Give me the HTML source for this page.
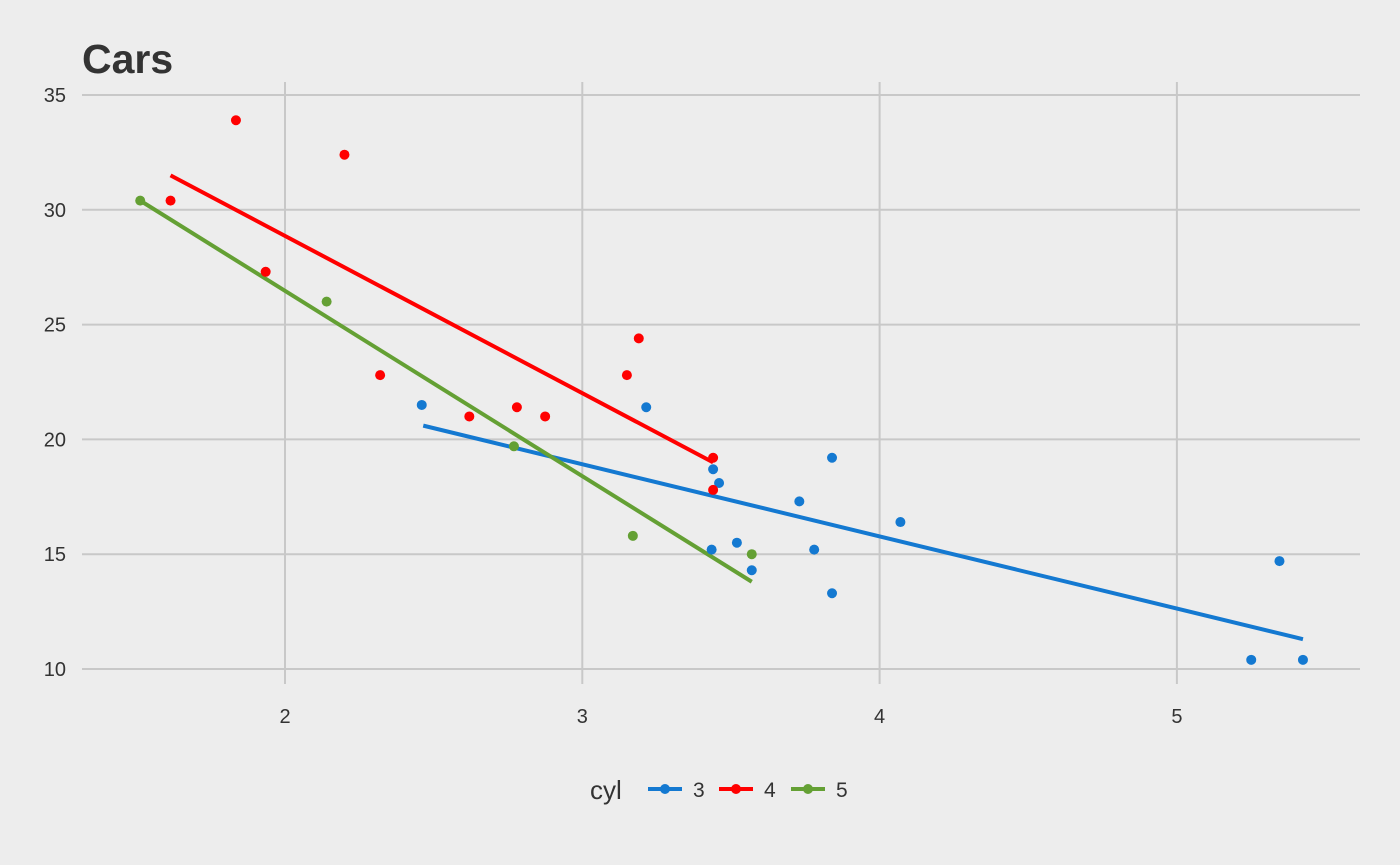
<!DOCTYPE html>
<html><head><meta charset="utf-8">
<style>
html,body{margin:0;padding:0;background:#ededed;}
svg{display:block;font-family:"Liberation Sans",Arial,sans-serif;}
</style></head>
<body>
<svg id="chart" width="1400" height="865" viewBox="0 0 1400 865">
<rect width="1400" height="865" fill="#ededed"/>
<text x="82" y="73" font-size="41" font-weight="bold" fill="#333">Cars</text>
<g id="grid"></g>
<g id="lines"></g>
<g id="points"></g>
<g id="legend">
<text x="590" y="799" font-size="26" fill="#333">cyl</text>
</g>
</svg>
<script>
const xTicks=[2,3,4,5];
const yTicks=[10,15,20,25,30,35];
const groups=["3","4","5"];
const colors=["#1479d1","#ff0000","#64a034"];
const wt3=[2.46,3.215,3.44,3.46,3.435,3.52,3.57,3.73,3.78,3.84,3.84,4.07,5.25,5.345,5.424];
const mpg3=[21.5,21.4,18.7,18.1,15.2,15.5,14.3,17.3,15.2,19.2,13.3,16.4,10.4,14.7,10.4];
const wt4=[1.615,1.835,1.935,2.2,2.32,2.62,2.78,2.875,3.15,3.19,3.44,3.44];
const mpg4=[30.4,33.9,27.3,32.4,22.8,21.0,21.4,21.0,22.8,24.4,19.2,17.8];
const wt5=[1.513,2.14,2.77,3.17,3.57];
const mpg5=[30.4,26.0,19.7,15.8,15.0];
const fitX3=[2.465,5.424], fitY3=[20.6,11.3];
const fitX4=[1.615,3.44], fitY4=[31.5,19.0];
const fitX5=[1.513,3.57], fitY5=[30.4,13.8];

const X=v=>285+(v-2)*297.3;
const Y=v=>669-(v-10)*22.96;
const NS="http://www.w3.org/2000/svg";
function mk(tag,attrs,parent){const e=document.createElementNS(NS,tag);for(const k in attrs)e.setAttribute(k,attrs[k]);parent.appendChild(e);return e;}
const grid=document.getElementById('grid');
yTicks.forEach(t=>{
  const l=mk('line',{x1:82,x2:1360,y1:Y(t),y2:Y(t),stroke:'#c8c8c8','stroke-width':2},grid);
  
  
  const tx=mk('text',{x:66,y:Y(t)+7,'font-size':20,fill:'#333','text-anchor':'end'},grid);
  tx.textContent=t;
  
  
});
xTicks.forEach(t=>{
  const l=mk('line',{x1:X(t),x2:X(t),y1:82,y2:684,stroke:'#c8c8c8','stroke-width':2},grid);
  
  
  const tx=mk('text',{x:X(t),y:723,'font-size':20,fill:'#333','text-anchor':'middle'},grid);
  tx.textContent=t;
  
  
});
const series=[[wt3,mpg3,fitX3,fitY3],[wt4,mpg4,fitX4,fitY4],[wt5,mpg5,fitX5,fitY5]];
const lg=document.getElementById('lines'), pg=document.getElementById('points');
series.forEach((s,i)=>{
  const l=mk('line',{x1:X(s[2][0]),y1:Y(s[3][0]),x2:X(s[2][1]),y2:Y(s[3][1]),stroke:colors[i],'stroke-width':4},lg);
  
  
  s[0].forEach((x,j)=>{
    const c=mk('circle',{cx:X(x),cy:Y(s[1][j]),r:5,fill:colors[i]},pg);
    
    
  });
});
const leg=document.getElementById('legend');
const lx=[648,719,791];
groups.forEach((g,i)=>{
  const x0=lx[i];
  const k=mk('g',{},leg);
  
  
  mk('line',{x1:x0,x2:x0+34,y1:789,y2:789,stroke:colors[i],'stroke-width':4},k);
  mk('circle',{cx:x0+17,cy:789,r:5,fill:colors[i]},k);
  const t=mk('text',{x:x0+45,y:797,'font-size':21,fill:'#333'},k);
  t.textContent=g;
});
</script>
</body></html>
